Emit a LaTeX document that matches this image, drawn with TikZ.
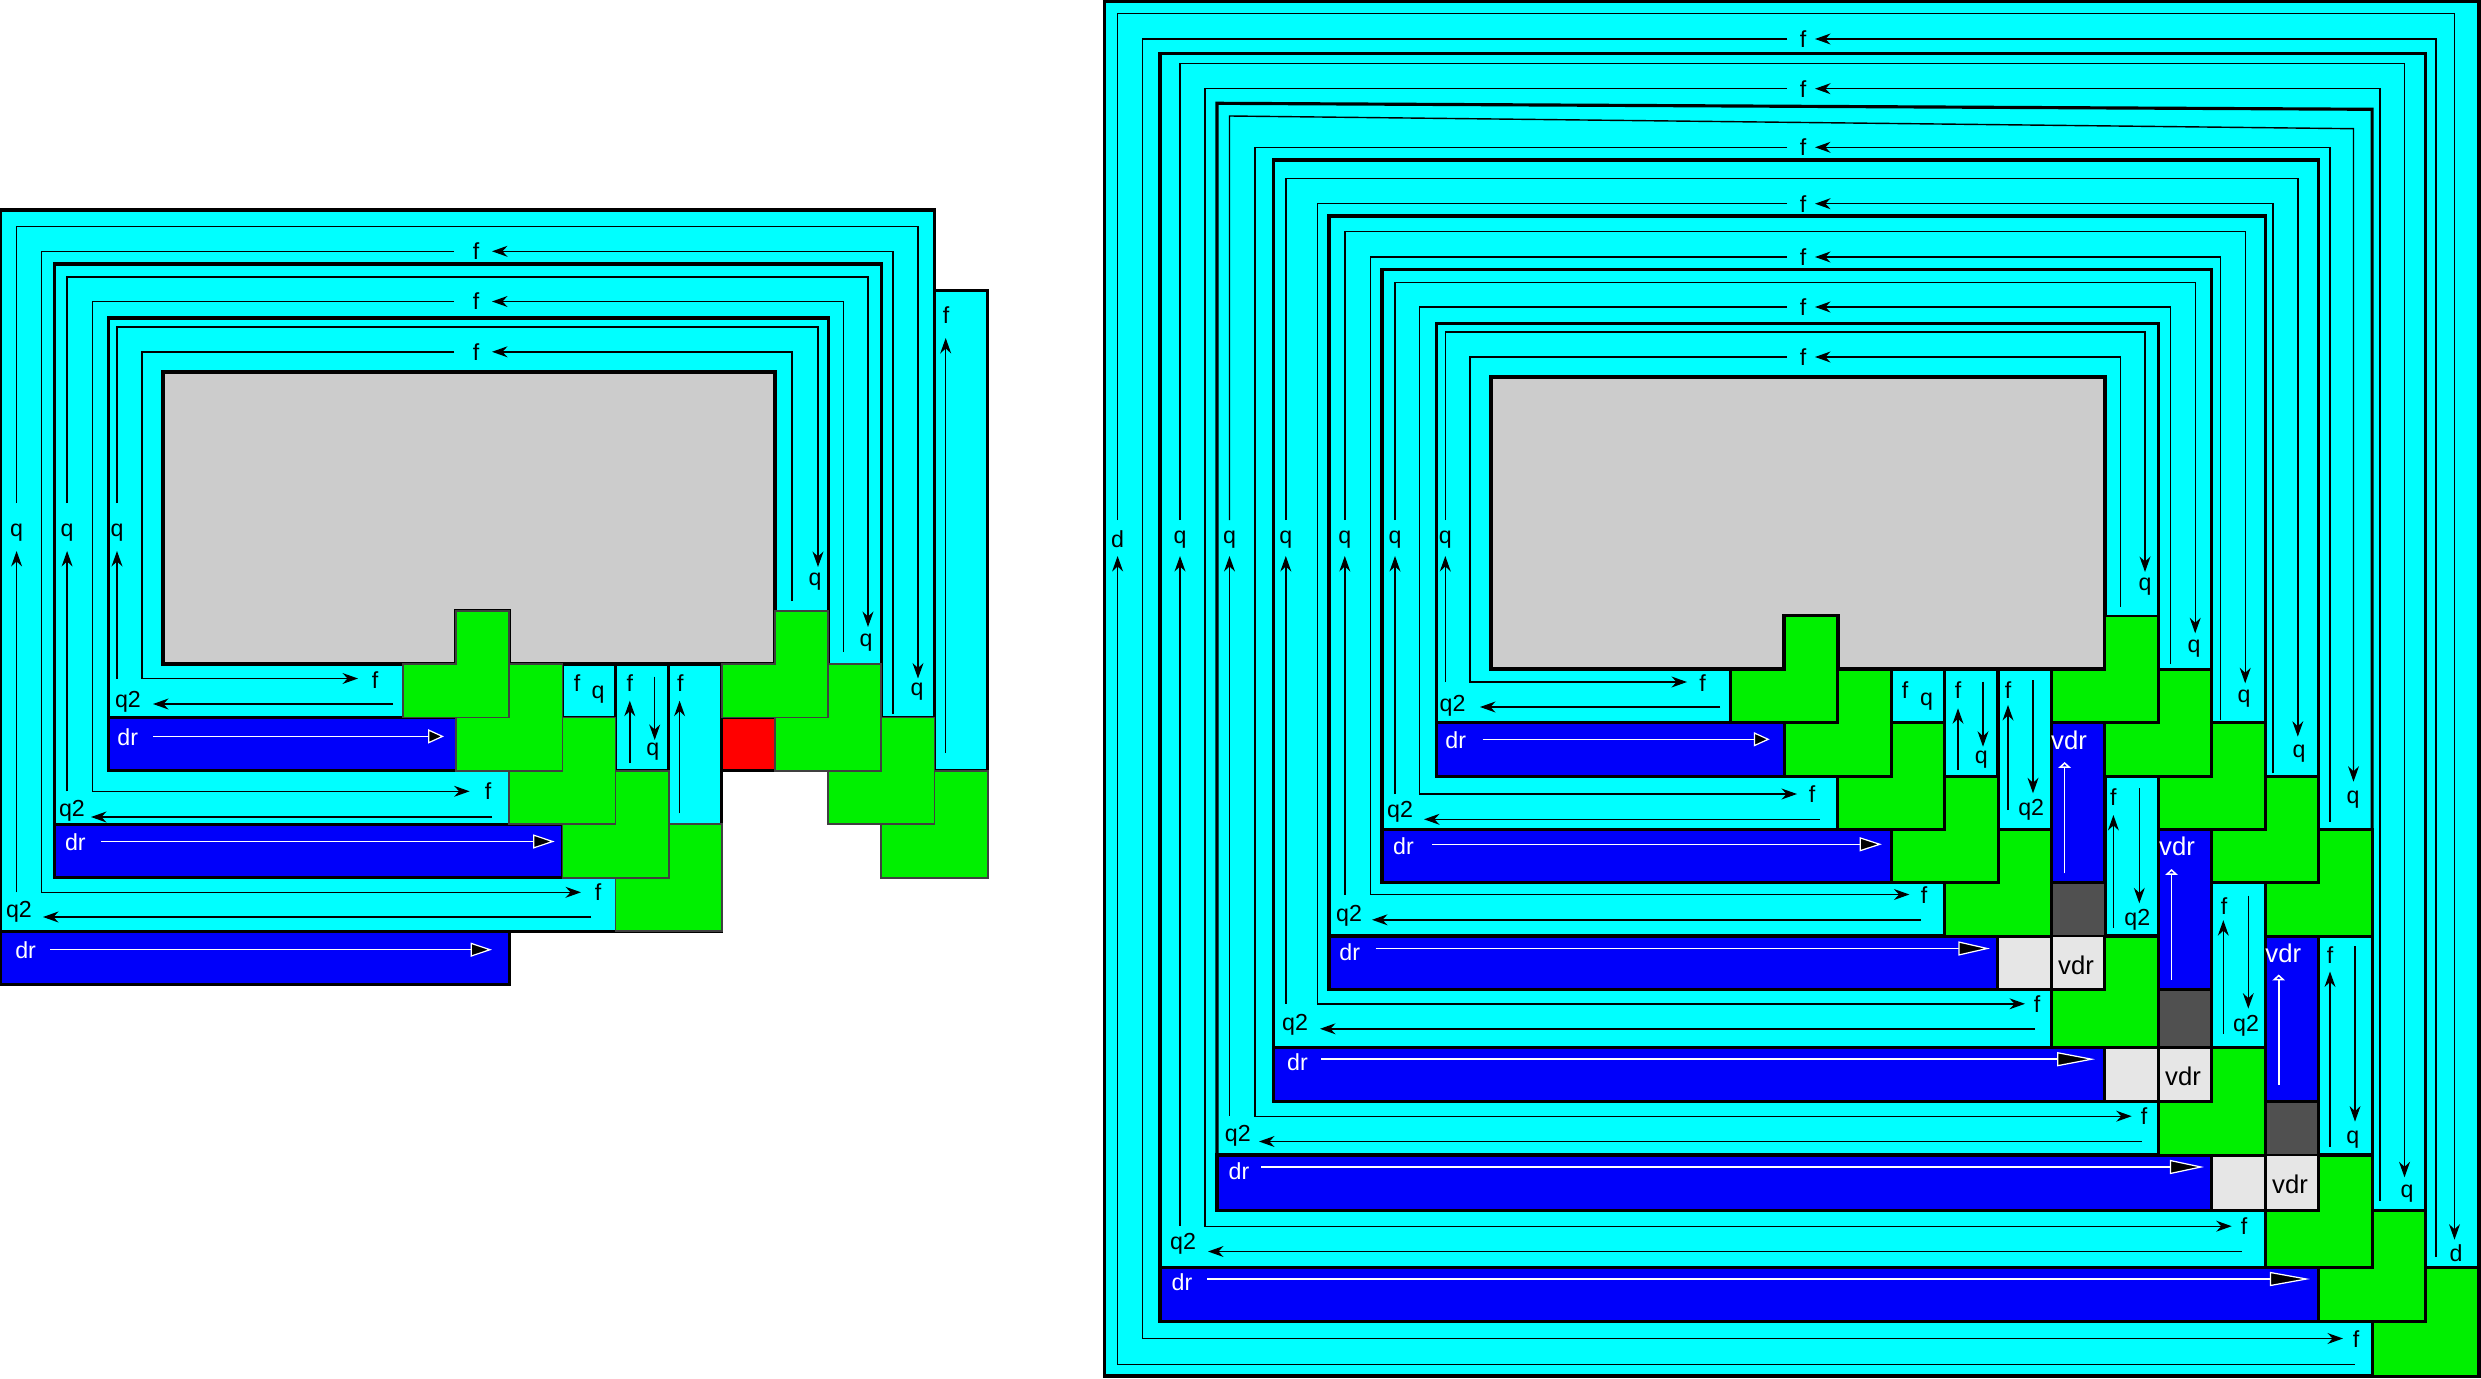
\documentclass[tikz,border=0pt]{standalone}
\usepackage{fontspec}
\setmainfont{Liberation Sans}
\usetikzlibrary{arrows.meta}
\definecolor{cyn}{RGB}{0,255,255}
\definecolor{grn}{RGB}{0,240,0}
\definecolor{blu}{RGB}{0,0,250}
\definecolor{gry}{RGB}{204,204,204}
\definecolor{lgry}{RGB}{230,230,230}
\definecolor{dgry}{RGB}{80,80,80}
\definecolor{rd}{RGB}{255,0,0}
\tikzset{
 mylay/.style={fill=cyn, draw=black, line width=0.9pt},
 myblue/.style={fill=blu, draw=black, line width=0.9pt},
 mycell/.style={fill=cyn, draw=black, line width=0.9pt},
 mygray/.style={fill=gry, draw=black, line width=1.1pt},
 mygreenA/.style={fill=grn, draw=black!75, line width=0.5pt},
 mygreenB/.style={fill=grn, draw=black, line width=0.85pt},
 mysq/.style={draw=black, line width=0.8pt},
 myln/.style={draw=black, line width=0.4pt},
 myar/.style={myln, -{Stealth[length=4.4pt,width=3.1pt]}},
 mylab/.style={font=\fontsize{6.6}{6.6}\selectfont, inner sep=0pt},
 mywlab/.style={mylab, text=white},
 myvdr/.style={inner sep=0pt, font=\fontsize{7.3}{7.3}\selectfont},
 mydr/.style={draw=white, line width=0.45pt, -{Stealth[length=#1, width=4pt, inset=25pt*0, fill=black, line width=0.35pt]}},
 myvup/.style={draw=white, line width=0.45pt, -{Triangle[open, length=1.7pt, width=3.6pt, line width=0.6pt]}},
}
\newcommand\GL[4]{%
 \pgfmathtruncatemacro\gib{#2+1}\pgfmathtruncatemacro\gic{#2+2}%
 \pgfmathtruncatemacro\gjb{#3+1}\pgfmathtruncatemacro\gjc{#3+2}%
 \draw[#4] (#1\gib-#3) -- (#1\gic-#3) -- (#1\gic-\gjc) -- (#1#2-\gjc) -- (#1#2-\gjb) -- (#1\gib-\gjb) -- cycle;}
\newcommand\CR[6]{\draw[#1] (#2#3-#4) rectangle (#2#5-#6);}
\begin{document}
\begin{tikzpicture}[x=0.01cm,y=-0.01cm]
\useasboundingbox (0,0) rectangle (2481,1379);
\fill[white] (0,0) rectangle (2481,1379);
% grids
\foreach \i in {0,...,11} {\foreach \yy [count=\j from 0] in {610.7,664.1,717.5,770.9,824.3,877.7,931.1,984.5} {\coordinate (A\i-\j) at ({403+53.15*\i},\yy);}}
\foreach \i in {0,...,14} {\foreach \yy [count=\j from 0] in {616,669.3,722.7,776.7,829.3,882.5,936,989.5,1047.5,1101.5,1155,1210.5,1267.5,1321.5,1376} {\coordinate (B\i-\j) at ({1730.9+53.43*\i},\yy);}}

%%%%%%%%%%%%%%%% LEFT DIAGRAM
\draw[mylay] (0,210) -- (934.5,210) -- (934.5,717.5) -- (881.35,717.5) -- (881.35,770.9) -- (721.9,770.9) -- (721.9,931.1) -- (0,931.1) -- cycle;
\draw[mylay] (54.3,264) -- (881.35,264) -- (881.35,770.9) -- (721.9,770.9) -- (721.9,824.3) -- (54.3,824.3) -- cycle;
\draw[mylay] (108.6,318) rectangle (828.2,717.5);
\draw[mycell] (934.5,290.3) rectangle (987.65,770.9);
\draw[mygray] (163,372.3) -- (775.05,372.3) -- (775.05,664.1) -- (509.3,664.1) -- (509.3,610.7) -- (456.15,610.7) -- (456.15,664.1) -- (163,664.1) -- cycle;
\draw[myblue] (108.6,717.5) rectangle (A1-3);
\draw[myblue] (54.3,824.3) rectangle (A3-5);
\draw[myblue] (0,931.1) rectangle (A2-7);
\CR{mycell}{A}{3}{1}{4}{2}
\CR{mycell}{A}{4}{1}{5}{3}
\CR{mycell}{A}{5}{1}{6}{4}
\CR{mysq,fill=rd}{A}{6}{2}{7}{3}
\GL{A}{0}{0}{mygreenA}\GL{A}{1}{1}{mygreenA}\GL{A}{2}{2}{mygreenA}\GL{A}{3}{3}{mygreenA}\GL{A}{4}{4}{mygreenA}
\GL{A}{6}{0}{mygreenA}\GL{A}{7}{1}{mygreenA}\GL{A}{8}{2}{mygreenA}\GL{A}{9}{3}{mygreenA}
% layer 1 lines
\draw[myar] (16.6,892.3) -- (16.6,551);
\node[mylab] (lq1) at (16.6,533) {q};
\draw[myar] (16.6,503) -- (16.6,226.7) -- (918,226.7) -- (918,678.5);
\node[mylab] (lq1r) at (917,692) {q};
\draw[myar] (893,714) -- (893,251.3) -- (492,251.3);
\node[mylab] (lf1t) at (476,251.3) {f};
\draw[myar] (454,251.3) -- (41.5,251.3) -- (41.5,892.3) -- (581,892.3);
\node[mylab] (lf1b) at (598,892.3) {f};
\draw[myar] (591,917) -- (43,917);
\node[mylab] (lq21) at (19,912) {q2};
% layer 2 lines
\draw[myar] (67.1,791.3) -- (67.1,551);
\node[mylab] (lq2) at (67.1,533) {q};
\draw[myar] (67.1,503) -- (67.1,277) -- (868,277) -- (868,627);
\node[mylab] (lq2r) at (866,643) {q};
\draw[myar] (843.5,652) -- (843.5,301.5) -- (492,301.5);
\node[mylab] (lf2t) at (476,301.5) {f};
\draw[myar] (454,301.5) -- (92.7,301.5) -- (92.7,791.3) -- (469.6,791.3);
\node[mylab] (lf2b) at (488,791.3) {f};
\draw[myar] (492,817) -- (91,817);
\node[mylab] (lq22) at (72,811) {q2};
% layer 3 lines
\draw[myar] (117,678.5) -- (117,551);
\node[mylab] (lq3) at (117,533) {q};
\draw[myar] (117,503) -- (117,327) -- (818,327) -- (818,567);
\node[mylab] (lq3r) at (815,582) {q};
\draw[myar] (792,601) -- (792,351.8) -- (492,351.8);
\node[mylab] (lf3t) at (476,351.8) {f};
\draw[myar] (454,351.8) -- (141.9,351.8) -- (141.9,678.5) -- (358,678.5);
\node[mylab] (lf3b) at (375,680) {f};
\draw[myar] (393,704) -- (153,704);
\node[mylab] (lq23) at (128,702) {q2};
% dr rows
\node[mywlab] (ld3) at (127.8,737) {dr}; \draw[mydr=4.5pt] (153.4,736.4) -- (444,736.4);
\node[mywlab] (ld2) at (75.4,842) {dr}; \draw[mydr=6.1pt] (101,841.5) -- (554.6,841.5);
\node[mywlab] (ld1) at (25.6,950) {dr}; \draw[mydr=6.1pt] (50,949.7) -- (492,949.7);
% cells
\node[mylab] (c1f) at (577.2,683.3) {f}; \node[mylab] (c1q) at (598,695) {q};
\node[mylab] (c2f) at (629.8,683.3) {f}; \draw[myar] (629.8,763) -- (629.8,700.7);
\draw[myar] (654.7,676.7) -- (654.7,740); \node[mylab] (c2q) at (652.7,752) {q};
\node[mylab] (c3f) at (680.4,683.3) {f}; \draw[myar] (679.6,813.3) -- (679.6,700.7);
\draw[myar] (945.7,753) -- (945.7,338); \node[mylab] (c4f) at (946,315.5) {f};

%%%%%%%%%%%%%%%% RIGHT DIAGRAM
\draw[mylay] (1104.4,1.7) rectangle (2478.9,1376);
\draw[mylay] (1160,53.3) rectangle (2425.5,1267.5);
\draw[mylay] (1217,103.3) -- (2372.1,109.3) -- (2372.1,1155) -- (1217,1155) -- cycle;
\draw[mylay] (1273.5,160) rectangle (2318.6,1047.5);
\draw[mylay] (1329,216) rectangle (2265.2,936);
\draw[mylay] (1382,269.3) rectangle (2211.8,829.3);
\draw[mylay] (1436.4,323.3) rectangle (2158.3,722.7);
\draw[mygray] (1491,377.3) -- (2104.9,377.3) -- (2104.9,669.3) -- (1837.76,669.3) -- (1837.76,616) -- (1784.33,616) -- (1784.33,669.3) -- (1491,669.3) -- cycle;
\draw[myblue] (1436.4,722.7) rectangle (B1-3);
\draw[myblue] (1382,829.3) rectangle (B3-5);
\draw[myblue] (1329,936) rectangle (B5-7);
\draw[myblue] (1273.5,1047.5) rectangle (B7-9);
\draw[myblue] (1217,1155) rectangle (B9-11);
\draw[myblue] (1160,1267.5) rectangle (B11-13);
\CR{mycell}{B}{3}{1}{4}{2}
\CR{mycell}{B}{4}{1}{5}{3}
\CR{mycell}{B}{5}{1}{6}{4}
\CR{mycell}{B}{7}{3}{8}{6}
\CR{mycell}{B}{9}{5}{10}{8}
\CR{mycell}{B}{11}{6}{12}{10}
\CR{myblue}{B}{6}{2}{7}{5}
\CR{myblue}{B}{8}{4}{9}{7}
\CR{myblue}{B}{10}{6}{11}{9}
\CR{mysq,fill=dgry}{B}{6}{5}{7}{6}
\CR{mysq,fill=dgry}{B}{8}{7}{9}{8}
\CR{mysq,fill=dgry}{B}{10}{9}{11}{10}
\CR{mysq,fill=lgry}{B}{5}{6}{6}{7}\CR{mysq,fill=lgry}{B}{6}{6}{7}{7}
\CR{mysq,fill=lgry}{B}{7}{8}{8}{9}\CR{mysq,fill=lgry}{B}{8}{8}{9}{9}
\CR{mysq,fill=lgry}{B}{9}{10}{10}{11}\CR{mysq,fill=lgry}{B}{10}{10}{11}{11}
\GL{B}{0}{0}{mygreenB}\GL{B}{1}{1}{mygreenB}\GL{B}{2}{2}{mygreenB}\GL{B}{3}{3}{mygreenB}\GL{B}{4}{4}{mygreenB}
\GL{B}{6}{6}{mygreenB}\GL{B}{8}{8}{mygreenB}\GL{B}{10}{10}{mygreenB}\GL{B}{11}{11}{mygreenB}\GL{B}{12}{12}{mygreenB}
\GL{B}{6}{0}{mygreenB}\GL{B}{7}{1}{mygreenB}\GL{B}{8}{2}{mygreenB}\GL{B}{9}{3}{mygreenB}\GL{B}{10}{4}{mygreenB}
% L1
\draw[myar] (2355,1364.5) -- (1117.6,1364.5) -- (1117.6,556);
\node[mylab] (r1d) at (1117.6,539.5) {d};
\draw[myar] (1117.6,520) -- (1117.6,13.7) -- (2454.5,13.7) -- (2454.5,1239.7);
\node[mylab] (r1dr) at (2456,1253) {d};
\draw[myar] (2436,1256.6) -- (2436,39) -- (1815,39);
\node[mylab] (r1ft) at (1803,39) {f};
\draw[myar] (1787,39) -- (1142.3,39) -- (1142.3,1338.5) -- (2343,1338.5);
\node[mylab] (r1fb) at (2356,1339) {f};
% L2
\draw[myar] (1180,1226.2) -- (1180,556); \node[mylab] (r2q) at (1180,539.5) {q};
\draw[myar] (1180,520) -- (1180,63.7) -- (2404.5,63.7) -- (2404.5,1177.3); \node[mylab] (r2qr) at (2407,1194) {q};
\draw[myar] (2380,1201) -- (2380,88.7) -- (1815,88.7); \node[mylab] (r2ft) at (1803,88.7) {f};
\draw[myar] (1787,88.7) -- (1204.8,88.7) -- (1204.8,1226.2) -- (2231.7,1226.2); \node[mylab] (r2fb) at (2244,1226.2) {f};
\draw[myar] (2241.7,1251.5) -- (1208,1251.5); \node[mylab] (r2q2) at (1183,1244) {q2};
% L3
\draw[myar] (1229.5,1116.2) -- (1229.5,556); \node[mylab] (r3q) at (1229.5,539.5) {q};
\draw[myar] (1229.5,520) -- (1229.5,116) -- (2353.5,128.7) -- (2353.5,781.7); \node[mylab] (r3qr) at (2353,800) {q};
\draw[myar] (2330,821.7) -- (2330,147.3) -- (1815,147.3); \node[mylab] (r3ft) at (1803,147.3) {f};
\draw[myar] (1787,147.3) -- (1255,147.3) -- (1255,1116.2) -- (2131.7,1116.2); \node[mylab] (r3fb) at (2144,1116.2) {f};
\draw[myar] (2141.7,1141.5) -- (1259,1141.5); \node[mylab] (r3q2) at (1237.8,1136) {q2};
% L4
\draw[myar] (1285.8,1003.8) -- (1285.8,556); \node[mylab] (r4q) at (1285.8,539.5) {q};
\draw[myar] (1285.8,520) -- (1285.8,178.7) -- (2297.8,178.7) -- (2297.8,736.7); \node[mylab] (r4qr) at (2299,753.3) {q};
\draw[myar] (2273,773.3) -- (2273,203.7) -- (1815,203.7); \node[mylab] (r4ft) at (1803,203.7) {f};
\draw[myar] (1787,203.7) -- (1317.5,203.7) -- (1317.5,1003.8) -- (2025,1003.8); \node[mylab] (r4fb) at (2037,1004) {f};
\draw[myar] (2035,1028.8) -- (1320,1028.8); \node[mylab] (r4q2) at (1295,1025) {q2};
% L5
\draw[myar] (1344.8,894.5) -- (1344.8,556); \node[mylab] (r5q) at (1344.8,539.5) {q};
\draw[myar] (1344.8,520) -- (1344.8,231.7) -- (2245.2,231.7) -- (2245.2,683.3); \node[mylab] (r5qr) at (2244,698.3) {q};
\draw[myar] (2220.5,720) -- (2220.5,257) -- (1815,257); \node[mylab] (r5ft) at (1803,257) {f};
\draw[myar] (1787,257) -- (1370.4,257) -- (1370.4,894.5) -- (1909.4,894.5); \node[mylab] (r5fb) at (1924,895) {f};
\draw[myar] (1921,919.8) -- (1372,919.8); \node[mylab] (r5q2) at (1349,915.5) {q2};
% L6
\draw[myar] (1395,794) -- (1395,556); \node[mylab] (r6q) at (1395,539.5) {q};
\draw[myar] (1395,520) -- (1395,282.3) -- (2195.2,282.3) -- (2195.2,633.3); \node[mylab] (r6qr) at (2194,648.3) {q};
\draw[myar] (2170.5,664) -- (2170.5,307) -- (1815,307); \node[mylab] (r6ft) at (1803,307) {f};
\draw[myar] (1787,307) -- (1419.7,307) -- (1419.7,794) -- (1797,794); \node[mylab] (r6fb) at (1812,794) {f};
\draw[myar] (1819.5,819.3) -- (1424,819.3); \node[mylab] (r6q2) at (1400,812) {q2};
% L7
\draw[myar] (1445.3,682) -- (1445.3,556); \node[mylab] (r7q) at (1445.3,539.5) {q};
\draw[myar] (1445.3,520) -- (1445.3,332) -- (2145,332) -- (2145,572); \node[mylab] (r7qr) at (2145,587) {q};
\draw[myar] (2120.5,606.7) -- (2120.5,357) -- (1815,357); \node[mylab] (r7ft) at (1803,357) {f};
\draw[myar] (1787,357) -- (1470,357) -- (1470,682) -- (1687,682); \node[mylab] (r7fb) at (1702.5,683) {f};
\draw[myar] (1720,707) -- (1480,707); \node[mylab] (r7q2) at (1452.5,706) {q2};
% dr rows right
\node[mywlab] (rd7) at (1455.7,740) {dr}; \draw[mydr=4.5pt] (1482.6,739.3) -- (1769.7,739.3);
\node[mywlab] (rd6) at (1403.5,846) {dr}; \draw[mydr=6.3pt] (1432,844.3) -- (1881.8,844.3);
\node[mywlab] (rd5) at (1349.7,952) {dr}; \draw[mydr=9pt] (1375.5,948.5) -- (1990,948.5);
\node[mywlab] (rd4) at (1297.5,1062) {dr}; \draw[mydr=10.8pt] (1321,1059.2) -- (2095,1059.2);
\node[mywlab] (rd3) at (1239,1171) {dr}; \draw[mydr=9.7pt] (1261,1167) -- (2204,1167);
\node[mywlab] (rd2) at (1182,1282) {dr}; \draw[mydr=11.4pt] (1207,1279) -- (2310,1279);
% cells right
\node[mylab] (k1f) at (1905.2,690) {f}; \node[mylab] (k1q) at (1926.6,702) {q};
\node[mylab] (k2f) at (1958,690) {f}; \draw[myar] (1958,770) -- (1958,708.3);
\draw[myar] (1983,681.7) -- (1983,746.7); \node[mylab] (k2q) at (1981.4,760) {q};
\node[mylab] (k3f) at (2008,690) {f}; \draw[myar] (2008,810) -- (2008,705);
\draw[myar] (2033,680) -- (2033,793.3); \node[mylab] (k3q) at (2031.2,810) {q2};
\node[mylab] (k4f) at (2113.4,796.7) {f}; \draw[myar] (2113.4,928) -- (2113.4,815);
\draw[myar] (2139.3,788) -- (2139.3,903.3); \node[mylab] (k4q) at (2137.3,920) {q2};
\node[mylab] (k5f) at (2224,905.7) {f}; \draw[myar] (2223.3,1033.9) -- (2223.3,920.2);
\draw[myar] (2248.3,895.5) -- (2248.3,1008.6); \node[mylab] (k5q) at (2246,1025.4) {q2};
\node[mylab] (k6f) at (2330,954.6) {f}; \draw[myar] (2330,1146.9) -- (2330,971.5);
\draw[myar] (2355,946) -- (2355,1121.6); \node[mylab] (k6q) at (2352.7,1140) {q};
% vdr
\node[myvdr, text=white] (v1) at (2069,740) {vdr}; \draw[myvup] (2064.6,873.3) -- (2064.6,762);
\node[myvdr, text=white] (v2) at (2177,846.7) {vdr}; \draw[myvup] (2171.5,979.9) -- (2171.5,869);
\node[myvdr, text=white] (v3) at (2283.3,953) {vdr}; \draw[myvup] (2278.7,1084.5) -- (2278.7,974.5);
\node[myvdr] (w1) at (2076,965) {vdr};
\node[myvdr] (w2) at (2183,1076.5) {vdr};
\node[myvdr] (w3) at (2290,1184.8) {vdr};
\end{tikzpicture}
\end{document}
